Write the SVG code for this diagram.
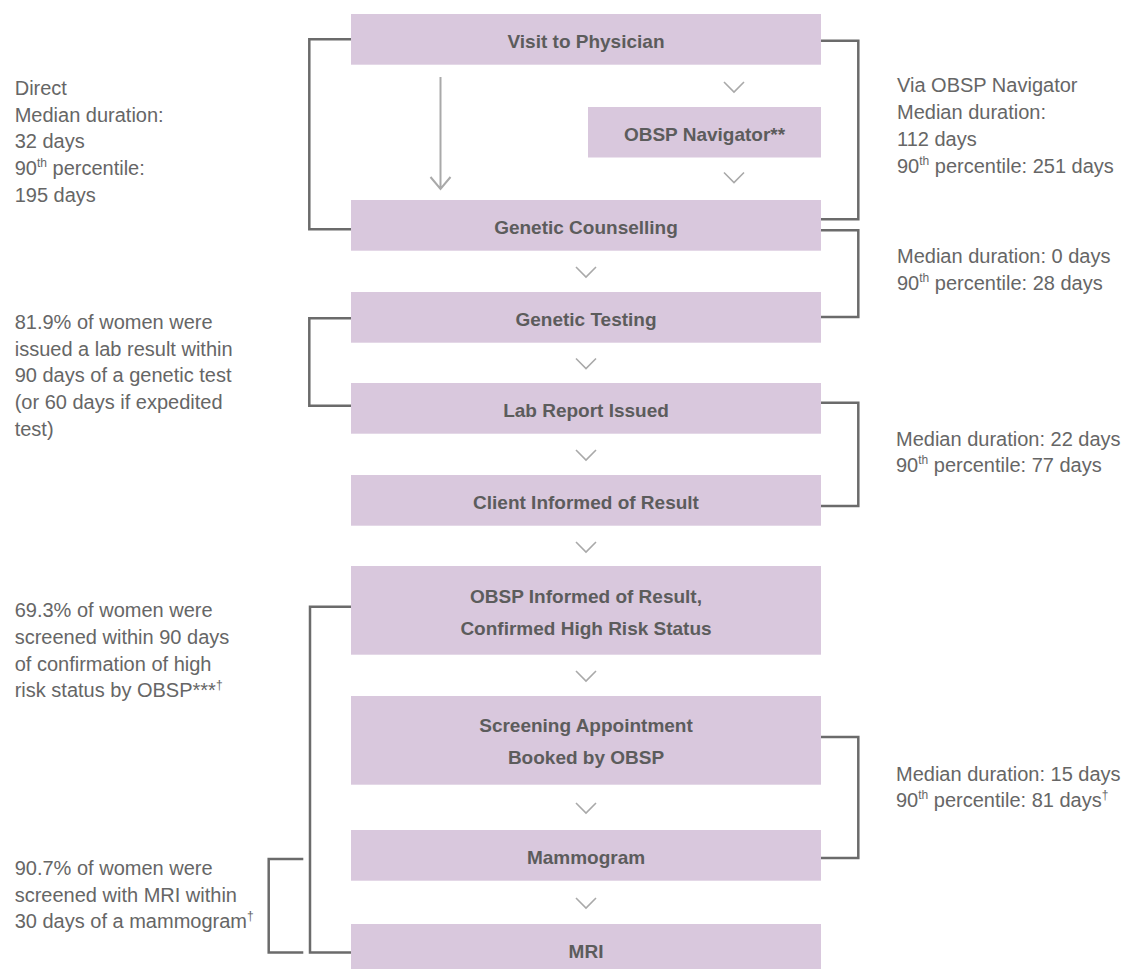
<svg xmlns="http://www.w3.org/2000/svg" width="1125" height="969" viewBox="0 0 1125 969">
<style>
.box{fill:#d9c8dd}
.lbl{font-family:"Liberation Sans",Arial,sans-serif;font-weight:bold;font-size:19px;fill:#5c5c5c;text-anchor:middle}
.side{font-family:"Liberation Sans",Arial,sans-serif;font-size:20px;fill:#666666}
.sup{font-size:12px}
.br{fill:none;stroke:#6b6b6b;stroke-width:2.5}
.chev{fill:none;stroke:#a9a9a9;stroke-width:1.6}
.arr{fill:none;stroke:#a9a9a9;stroke-width:2}
</style>
<rect width="1125" height="969" fill="#ffffff"/>
<g id="connectors">
  <path class="br" d="M351,39.3 H309.3 V229.3 H351"/>
  <path class="br" d="M821,40.7 H858.3 V219.3 H821"/>
  <path class="br" d="M821,230.3 H858.3 V317 H821"/>
  <path class="br" d="M351,318.3 H309.3 V405.7 H351"/>
  <path class="br" d="M821,402.7 H858.3 V506 H821"/>
  <path class="br" d="M351,606.7 H310 V952.5 H351"/>
  <path class="br" d="M303.3,859 H268.7 V952.5 H303.3"/>
  <path class="br" d="M821,737 H858.3 V858 H821"/>
  <path class="arr" d="M440.5,77 V189 M430.5,177 L440.5,189 L450.5,177"/>
  <path class="chev" d="M724,82 L734,92 L744,82"/>
  <path class="chev" d="M724,172.5 L734,182.5 L744,172.5"/>
  <path class="chev" d="M576,267 L586,277 L596,267"/>
  <path class="chev" d="M576,358.5 L586,368.5 L596,358.5"/>
  <path class="chev" d="M576,450 L586,460 L596,450"/>
  <path class="chev" d="M576,542 L586,552 L596,542"/>
  <path class="chev" d="M576,671 L586,681 L596,671"/>
  <path class="chev" d="M576,803 L586,813 L596,803"/>
  <path class="chev" d="M576,898 L586,908 L596,898"/>
</g>
<g id="n-visit"><rect class="box" x="351" y="14" width="470" height="50.7"/><text class="lbl" x="586" y="48">Visit to Physician</text></g>
<g id="n-navigator"><rect class="box" x="588" y="107" width="233" height="50.5"/><text class="lbl" x="704.5" y="141">OBSP Navigator**</text></g>
<g id="n-counselling"><rect class="box" x="351" y="200" width="470" height="50.7"/><text class="lbl" x="586" y="234">Genetic Counselling</text></g>
<g id="n-testing"><rect class="box" x="351" y="292" width="470" height="50.7"/><text class="lbl" x="586" y="326">Genetic Testing</text></g>
<g id="n-lab"><rect class="box" x="351" y="383" width="470" height="50.7"/><text class="lbl" x="586" y="417">Lab Report Issued</text></g>
<g id="n-client"><rect class="box" x="351" y="475" width="470" height="50.7"/><text class="lbl" x="586" y="509">Client Informed of Result</text></g>
<g id="n-obsp-informed"><rect class="box" x="351" y="566" width="470" height="88.7"/><text class="lbl" x="586" y="603.3">OBSP Informed of Result,</text><text class="lbl" x="586" y="635">Confirmed High Risk Status</text></g>
<g id="n-screening"><rect class="box" x="351" y="696" width="470" height="88.7"/><text class="lbl" x="586" y="732.3">Screening Appointment</text><text class="lbl" x="586" y="764">Booked by OBSP</text></g>
<g id="n-mammogram"><rect class="box" x="351" y="830" width="470" height="50.7"/><text class="lbl" x="586" y="864">Mammogram</text></g>
<g id="n-mri"><rect class="box" x="351" y="924" width="470" height="50.7"/><text class="lbl" x="586" y="958">MRI</text></g>
<g id="notes">
  <text class="side" x="14.7" y="94.7">Direct</text>
  <text class="side" x="14.7" y="121.5">Median duration:</text>
  <text class="side" x="14.7" y="148.2">32 days</text>
  <text class="side" x="14.7" y="175">90<tspan class="sup" dy="-8">th</tspan><tspan dy="8"> percentile:</tspan></text>
  <text class="side" x="14.7" y="201.7">195 days</text>

  <text class="side" x="897" y="91.7">Via OBSP Navigator</text>
  <text class="side" x="897" y="118.8">Median duration:</text>
  <text class="side" x="897" y="146">112 days</text>
  <text class="side" x="897" y="173.2">90<tspan class="sup" dy="-8">th</tspan><tspan dy="8"> percentile: 251 days</tspan></text>

  <text class="side" x="897" y="263.3">Median duration: 0 days</text>
  <text class="side" x="897" y="290">90<tspan class="sup" dy="-8">th</tspan><tspan dy="8"> percentile: 28 days</tspan></text>

  <text class="side" x="14.7" y="329">81.9% of women were</text>
  <text class="side" x="14.7" y="355.7">issued a lab result within</text>
  <text class="side" x="14.7" y="382.3">90 days of a genetic test</text>
  <text class="side" x="14.7" y="409">(or 60 days if expedited</text>
  <text class="side" x="14.7" y="435.5">test)</text>

  <text class="side" x="896" y="445.7">Median duration: 22 days</text>
  <text class="side" x="896" y="472.3">90<tspan class="sup" dy="-8">th</tspan><tspan dy="8"> percentile: 77 days</tspan></text>

  <text class="side" x="14.7" y="617.3">69.3% of women were</text>
  <text class="side" x="14.7" y="644">screened within 90 days</text>
  <text class="side" x="14.7" y="670.7">of confirmation of high</text>
  <text class="side" x="14.7" y="697">risk status by OBSP***<tspan class="sup" dy="-8">†</tspan></text>

  <text class="side" x="14.7" y="875">90.7% of women were</text>
  <text class="side" x="14.7" y="901.7">screened with MRI within</text>
  <text class="side" x="14.7" y="928.3">30 days of a mammogram<tspan class="sup" dy="-8">†</tspan></text>

  <text class="side" x="896" y="780.7">Median duration: 15 days</text>
  <text class="side" x="896" y="807.3">90<tspan class="sup" dy="-8">th</tspan><tspan dy="8"> percentile: 81 days</tspan><tspan class="sup" dy="-8">†</tspan></text>
</g>
</svg>
